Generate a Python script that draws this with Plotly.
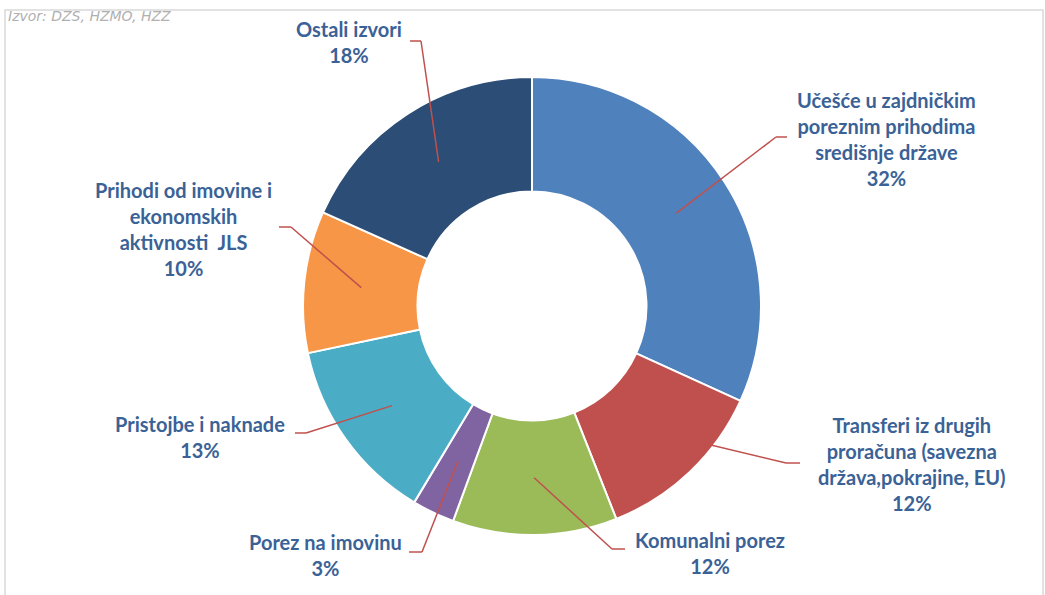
import math
import plotly.graph_objects as go

labels = [
    "Učešće u zajdničkim<br>poreznim prihodima<br>središnje države",
    "Transferi iz drugih<br>proračuna (savezna<br>država,pokrajine, EU)",
    "Komunalni porez",
    "Porez na imovinu",
    "Pristojbe i naknade",
    "Prihodi od imovine i<br>ekonomskih<br>aktivnosti  JLS",
    "Ostali izvori",
]
values = [31.8, 12.2, 11.6, 3.0, 13.1, 10.0, 18.3]
colors = ["#4F81BD", "#C0504D", "#9BBB59", "#8064A2", "#4BACC6", "#F79646", "#2C4D75"]

W, H = 1045, 595
CX, CY, R = 532, 306, 229
HOLE = 0.5

# label layout (pixel positions of text centre, leader-line elbow start/end)
label_pos = [
    (886, 139), (912, 464), (710, 553), (325, 555), (200, 437), (183, 229), (349, 42),
]
elbow = [
    ((787, 137), (776, 137)),
    ((800, 463), (786, 463)),
    ((625, 549), (612, 549)),
    ((409, 552), (422, 552)),
    ((295, 433), (306, 433)),
    ((279, 227), (291, 227)),
    ((410, 41), (421, 41)),
]

def px(x):
    return x / W

def py(y):
    return 1 - y / H

fig = go.Figure(go.Pie(
    labels=[l.replace("<br>", " ") for l in labels],
    values=values,
    hole=HOLE,
    sort=False,
    direction="clockwise",
    rotation=0,
    marker=dict(colors=colors, line=dict(color="white", width=2)),
    textinfo="none",
    hoverinfo="label+percent",
    showlegend=False,
    domain=dict(x=[px(CX - R), px(CX + R)], y=[py(CY + R), py(CY - R)]),
))

total = sum(values)
shapes = []
annotations = []
cum = 0.0
line_color = "#C0504D"
rmid = R * (1 + HOLE) / 2
for i, v in enumerate(values):
    mid = (cum + v / 2) / total * 2 * math.pi
    cum += v
    mx = CX + rmid * math.sin(mid)
    my = CY - rmid * math.cos(mid)
    (x0, y0), (x1, y1) = elbow[i]
    shapes.append(dict(type="line", xref="paper", yref="paper",
                       x0=px(x0), y0=py(y0), x1=px(x1), y1=py(y1),
                       line=dict(color=line_color, width=1.5)))
    shapes.append(dict(type="line", xref="paper", yref="paper",
                       x0=px(x1), y0=py(y1), x1=px(mx), y1=py(my),
                       line=dict(color=line_color, width=1.5)))
    pct = round(v / total * 100)
    lx, ly = label_pos[i]
    annotations.append(dict(
        x=px(lx), y=py(ly), xref="paper", yref="paper",
        text=f"{labels[i]}<br>{pct}%", showarrow=False,
        xanchor="center", yanchor="middle", align="center",
        font=dict(family="Lato, Open Sans, sans-serif", size=20, color="#3A6296", weight="bold"),
    ))

# frame
shapes.append(dict(type="rect", xref="paper", yref="paper",
                   x0=px(5), y0=py(600), x1=px(1043), y1=py(10),
                   line=dict(color="#D9D9D9", width=1.5), layer="below"))

annotations.append(dict(
    x=px(6), y=py(16), xref="paper", yref="paper", text="<i>Izvor: DZS, HZMO, HZZ</i>",
    showarrow=False, xanchor="left", yanchor="middle",
    font=dict(family="DejaVu Sans, sans-serif", size=14, color="#B0B0B0"),
))

fig.update_layout(
    width=W, height=H,
    margin=dict(l=0, r=0, t=0, b=0),
    paper_bgcolor="white", plot_bgcolor="white",
    shapes=shapes, annotations=annotations,
)

fig.write_html("out.html", config={"displayModeBar": False},
               post_script="document.body.style.margin='0';document.body.style.overflow='hidden';")
